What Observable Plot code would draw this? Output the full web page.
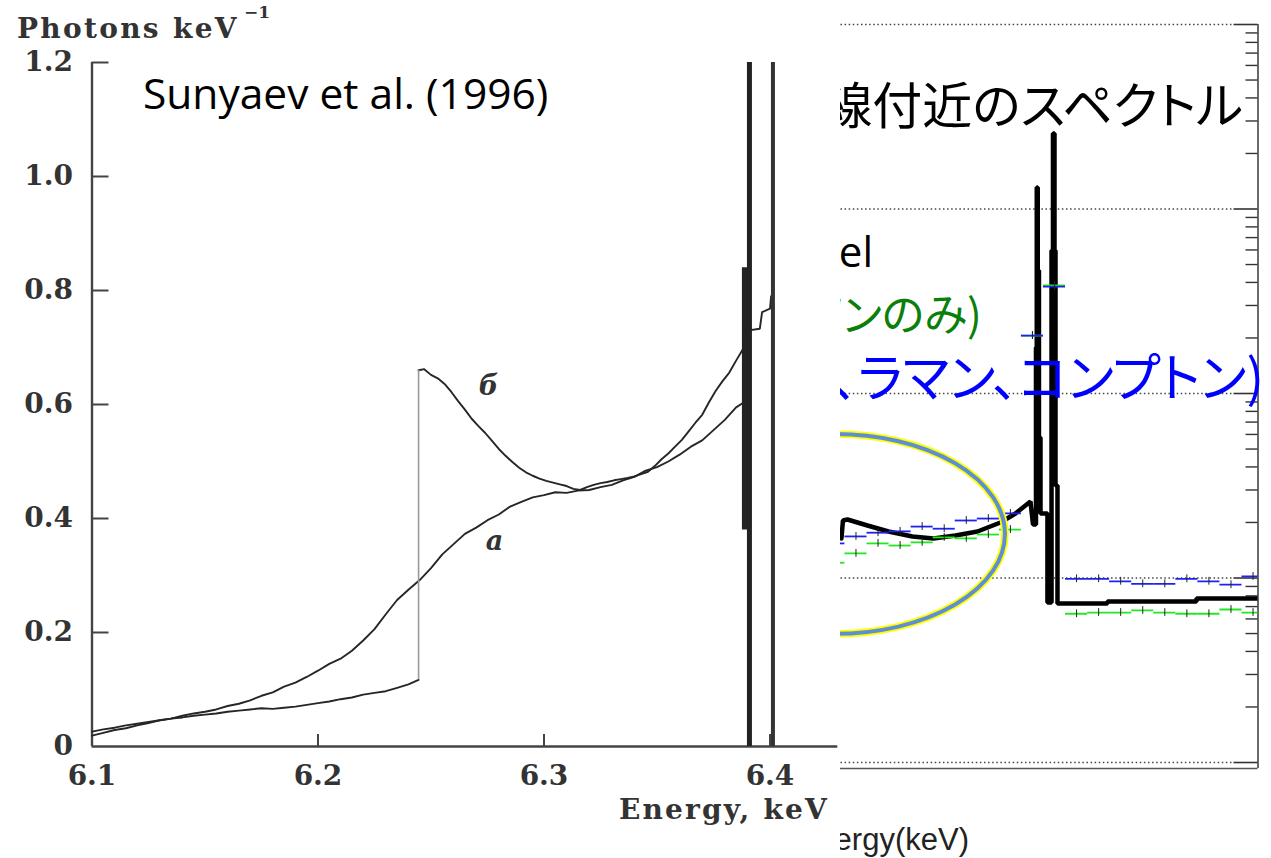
<!DOCTYPE html>
<html><head><meta charset="utf-8">
<script src="https://cdn.jsdelivr.net/npm/d3@7"></script>
<script src="https://cdn.jsdelivr.net/npm/@observablehq/plot@0.6"></script>
<style>
html,body{margin:0;padding:0;background:#fff;}
#page{position:relative;width:1271px;height:858px;overflow:hidden;background:#fff;}
#right{position:absolute;left:600px;top:0;z-index:1;}
#left{position:absolute;left:0;top:0;width:840px;height:858px;background:#fff;z-index:2;overflow:hidden;}
svg{display:block;}
</style></head><body><div id="page"><div id="right"></div><div id="left"></div></div>
<script>
// ===== Left chart: Sunyaev et al. (1996) =====
const leftXTicks = [6.1, 6.2, 6.3, 6.4];
const leftYTicks = [0, 0.2, 0.4, 0.6, 0.8, 1.0, 1.2];

// curve "a"
const aE = [6.100,6.105,6.110,6.115,6.120,6.125,6.130,6.135,6.140,6.145,6.150,6.155,6.160,6.165,6.170,6.175,6.180,6.185,6.190,6.195,
  6.200,6.205,6.210,6.215,6.220,6.225,6.230,6.235,6.240,6.245,6.250,6.255,6.260,6.265,6.270,6.275,6.280,6.285,6.290,6.295,
  6.300,6.305,6.310,6.315,6.320,6.325,6.330,6.335,6.340,6.345,6.350,6.355,6.360,6.365,6.370,6.375,6.380,6.385,6.3885];
const aV = [0.019,0.024,0.029,0.032,0.037,0.041,0.046,0.049,0.054,0.058,0.061,0.065,0.071,0.075,0.081,0.089,0.095,0.105,0.112,0.122,
  0.133,0.145,0.154,0.168,0.186,0.206,0.232,0.257,0.275,0.292,0.313,0.337,0.355,0.373,0.384,0.397,0.407,0.421,0.429,0.437,
  0.441,0.446,0.445,0.449,0.450,0.455,0.459,0.467,0.473,0.484,0.490,0.500,0.512,0.526,0.537,0.555,0.573,0.595,0.604];

// curve "б" below the edge
const bLowE = [6.100,6.105,6.110,6.115,6.120,6.125,6.130,6.135,6.140,6.145,6.150,6.155,6.160,6.165,6.170,6.175,6.180,6.185,6.190,6.195,
  6.200,6.205,6.210,6.215,6.220,6.225,6.230,6.235,6.240,6.2445];
const bLowV = [0.026,0.030,0.033,0.037,0.040,0.043,0.046,0.049,0.051,0.054,0.056,0.058,0.061,0.063,0.065,0.067,0.066,0.068,0.070,0.073,
  0.076,0.079,0.083,0.086,0.091,0.094,0.097,0.103,0.109,0.117];
// curve "б" above the edge
const bHighE = [6.2445,6.247,6.250,6.253,6.256,6.259,6.262,6.265,6.268,6.271,6.274,6.277,6.280,6.283,6.286,6.289,6.292,6.295,6.298,
  6.301,6.304,6.307,6.310,6.313,6.316,6.319,6.322,6.325,6.328,6.331,6.334,6.337,6.340,6.343,6.346,6.349,6.352,6.355,6.358,
  6.361,6.364,6.367,6.370,6.373,6.376,6.379,6.382,6.385,6.388,6.3895,6.3905,6.3955,6.3965,6.4000,6.4005,6.4013];
const bHighV = [0.660,0.662,0.652,0.646,0.636,0.622,0.606,0.591,0.575,0.562,0.550,0.536,0.522,0.510,0.499,0.489,0.481,0.475,0.470,
  0.466,0.463,0.460,0.457,0.452,0.450,0.455,0.459,0.462,0.464,0.467,0.469,0.471,0.474,0.478,0.482,0.492,0.504,0.514,0.526,
  0.538,0.553,0.568,0.582,0.604,0.624,0.641,0.656,0.677,0.697,0.705,0.730,0.733,0.762,0.768,0.790,0.790];

// Fe K alpha lines
const lineE = [6.3909, 6.4013];
const lineTop = [1.2, 1.2];
const lineWidth = [5, 4];
const bandE = [6.3889], bandLo = [0.38], bandHi = [0.84];

const curveLabels = [{e: 6.2754, v: 0.616, t: "б"}, {e: 6.2781, v: 0.344, t: "a"}];

const toRows = (E, V) => E.map((e, i) => ({e, v: V[i]}));
const serif = "DejaVu Serif";
const ink = "#333";

const leftPlot = Plot.plot({
  width: 840, height: 858,
  marginLeft: 91.5, marginRight: 2.7, marginTop: 62, marginBottom: 112,
  x: {domain: [6.1, 6.43], axis: null},
  y: {domain: [0, 1.2], axis: null},
  style: {background: "#fff"},
  marks: [
    Plot.ruleX([6.1], {x: d => d, y1: () => 0, y2: () => 1.2, stroke: "#444", strokeWidth: 2.4}),
    Plot.ruleY([0], {y: d => d, x1: () => 6.1, x2: () => 6.43, stroke: "#444", strokeWidth: 2.4}),
    Plot.ruleY(leftYTicks.slice(1), {y: d => d, x1: () => 6.1, x2: () => 6.1 + 17 / 2260, stroke: "#444", strokeWidth: 2}),
    Plot.ruleX(leftXTicks.slice(1), {x: d => d, y1: () => 0, y2: () => 12 / 570, stroke: "#444", strokeWidth: 2}),
    Plot.text(leftYTicks, {x: () => 6.1, y: d => d, text: d => d === 0 ? "0" : d.toFixed(1), textAnchor: "end", lineAnchor: "middle", dx: -19,
      fontFamily: serif, fontWeight: "bold", fontSize: 28, fill: ink}),
    Plot.text(leftXTicks, {x: d => d, y: () => 0, dy: 38, lineAnchor: "bottom", text: d => d.toFixed(1),
      fontFamily: serif, fontWeight: "bold", fontSize: 28, fill: ink}),
    Plot.line(toRows(aE, aV), {x: "e", y: "v", stroke: "#262626", strokeWidth: 1.9}),
    Plot.line(toRows(bLowE, bLowV), {x: "e", y: "v", stroke: "#262626", strokeWidth: 1.9}),
    Plot.line(toRows(bHighE, bHighV), {x: "e", y: "v", stroke: "#262626", strokeWidth: 1.9}),
    Plot.ruleX([bLowE.length - 1], {x: i => bLowE[i], y1: i => bLowV[i], y2: () => bHighV[0], stroke: "#999", strokeWidth: 1.6}),
    Plot.ruleX(bandE, {x: d => d, y1: (d, i) => bandLo[i], y2: (d, i) => bandHi[i], stroke: "#222", strokeWidth: 6}),
    Plot.ruleX([lineE[0]], {x: d => d, y1: () => 0, y2: () => lineTop[0], stroke: "#222", strokeWidth: lineWidth[0]}),
    Plot.ruleX([lineE[1]], {x: d => d, y1: () => 0, y2: () => lineTop[1], stroke: "#333", strokeWidth: lineWidth[1]}),
    Plot.text(curveLabels, {x: "e", y: "v", text: "t", lineAnchor: "bottom", fontFamily: serif, fontStyle: "italic", fontWeight: "bold", fontSize: 27, fill: ink})
  ]
});
{
  const s = d3.select(leftPlot);
  s.append("text").attr("x", 17).attr("y", 38).attr("text-anchor", "start").attr("font-family", serif).attr("font-weight", "bold")
    .attr("font-size", 28).attr("letter-spacing", 2.3).attr("fill", ink).text("Photons keV");
  s.append("text").attr("x", 244).attr("y", 18).attr("text-anchor", "start").attr("font-family", serif).attr("font-weight", "bold")
    .attr("font-size", 17).attr("fill", ink).text("−1");
  s.append("text").attr("x", 829).attr("y", 819).attr("text-anchor", "end").attr("font-family", serif).attr("font-weight", "bold")
    .attr("font-size", 28).attr("letter-spacing", 2.2).attr("fill", ink).text("Energy, keV");
  s.append("text").attr("x", 143).attr("y", 109).attr("text-anchor", "start").attr("font-family", "Open Sans").attr("font-size", 42.5)
    .attr("fill", "#000").text("Sunyaev et al. (1996)");
}
document.getElementById("left").appendChild(leftPlot);

// ===== Right chart: simulated spectrum (log scale) =====
const binStart = [6.20,6.22,6.24,6.26,6.28,6.30,6.32,6.34,6.36,6.38,6.40,6.42,6.44,6.46,6.48,6.50,6.52,6.54,6.56,6.58];
const binWidth = 0.02;
const blueV = [0.154,0.168,0.176,0.179,0.190,0.185,0.205,0.210,0.224,2.06,3.80,0.099,0.099,0.096,0.093,0.093,0.099,0.096,0.092,0.102];
const greenV = [0.121,0.136,0.154,0.150,0.156,0.166,0.164,0.172,0.183,2.06,3.86,0.064,0.065,0.065,0.0667,0.065,0.064,0.064,0.0675,0.065];
const errFactor = 1.05;

const modelE = [6.2168,6.2182,6.2223,6.2404,6.2595,6.2812,6.3003,6.3202,6.3402,6.3610,6.3746,6.3882,6.3905,6.3932,6.3932,6.3939,6.3939,
  6.3948,6.3948,6.3959,6.3959,6.3973,6.3973,6.4036,6.4036,6.4073,6.4073,6.4086,6.4086,6.4100,6.4100,6.4109,6.4109,6.4127,6.4127,
  6.4580,6.4580,6.5387,6.5387,6.5945];
const modelV = [0.1637,0.2050,0.2075,0.1926,0.1787,0.1679,0.1637,0.1700,0.1787,0.1999,0.2237,0.2598,0.1950,0.1950,1.776,1.776,13.08,
  13.08,4.64,4.64,0.577,0.577,0.2237,0.2237,0.0737,0.0737,5.96,5.96,25.66,25.66,5.96,5.96,0.317,0.317,0.0727,
  0.0727,0.0746,0.0746,0.0774,0.0774];

const rightMajor = [0.01, 0.1, 1, 10, 100];
const rightMinor = [0.01, 0.1, 1, 10].flatMap(d => [2,3,4,5,6,7,8,9].map(k => d * k));
const xLo = 6.09, xHi = 6.5945, yLo = 0.00928, yHi = 100;
const majLen = 24 / 1102.9, minLen = 12 / 1102.9;

const bins = binStart.map((s, i) => ({s, e: s + binWidth, m: s + binWidth / 2, blue: blueV[i], green: greenV[i]}));

const rightPlot = Plot.plot({
  width: 671, height: 858,
  marginLeft: 101.07, marginRight: 13.5, marginTop: 24, marginBottom: 90,
  x: {domain: [xLo, xHi], axis: null},
  y: {type: "log", domain: [yLo, yHi], axis: null},
  marks: [
    Plot.ruleY(rightMajor, {y: d => d, x1: () => xLo, x2: () => xHi - majLen, stroke: "#444", strokeWidth: 1.3, strokeDasharray: "1.5,2.6"}),
    Plot.ruleY([yLo], {y: d => d, x1: () => xLo, x2: () => xHi, stroke: "#555", strokeWidth: 1.6}),
    Plot.ruleX([xHi], {x: d => d, y1: () => yLo, y2: () => yHi, stroke: "#444", strokeWidth: 1.6}),
    Plot.ruleY(rightMajor, {y: d => d, x1: () => xHi - majLen, x2: () => xHi, stroke: "#333", strokeWidth: 1.6}),
    Plot.ruleY(rightMinor, {y: d => d, x1: () => xHi - minLen, x2: () => xHi, stroke: "#333", strokeWidth: 1.4}),
    Plot.line(toRows(modelE, modelV), {x: "e", y: "v", stroke: "#000", strokeWidth: 4.5, strokeLinejoin: "miter", clip: true}),
    Plot.ruleY(bins, {y: "green", x1: "s", x2: "e", stroke: "#22e822", strokeWidth: 1.8, clip: true}),
    Plot.ruleX(bins, {x: "m", y1: d => d.green / errFactor, y2: d => d.green * errFactor, stroke: "#222", strokeWidth: 1, clip: true}),
    Plot.ruleY(bins, {y: "blue", x1: "s", x2: "e", stroke: "#2020f0", strokeWidth: 1.8, clip: true}),
    Plot.ruleX(bins, {x: "m", y1: d => d.blue / errFactor, y2: d => d.blue * errFactor, stroke: "#222", strokeWidth: 1, clip: true})
  ]
});
{
  const s = d3.select(rightPlot);
  const sx = rightPlot.scale("x"), sy = rightPlot.scale("y");
  // highlight ellipse (annotation), defined in data units
  const ellE = 6.2114, ellHalfW = 0.1541, ellTopV = 0.60, ellBotV = 0.0495;
  const cx = sx.apply(ellE), rx = sx.apply(ellE + ellHalfW) - cx;
  const yt = sy.apply(ellTopV), yb = sy.apply(ellBotV);
  const cy = (yt + yb) / 2, ry = (yb - yt) / 2;
  s.append("ellipse").attr("cx", cx).attr("cy", cy).attr("rx", rx).attr("ry", ry)
    .attr("fill", "none").attr("stroke", "#ffff00").attr("stroke-width", 7.5);
  s.append("ellipse").attr("cx", cx).attr("cy", cy).attr("rx", rx).attr("ry", ry)
    .attr("fill", "none").attr("stroke", "#5e8fd4").attr("stroke-width", 4);
  // the part left of x = 840 (page) is covered by the left figure
  s.append("defs").append("clipPath").attr("id", "visibleRight")
    .append("rect").attr("x", 240).attr("y", 0).attr("width", 431).attr("height", 858);
  const g = s.append("g").attr("clip-path", "url(#visibleRight)");
  const jp = "'Noto Sans CJK JP', sans-serif";
  g.append("text").attr("x", 643).attr("y", 124).attr("text-anchor", "end").attr("font-family", jp)
    .attr("font-size", 50).style("font-feature-settings", "'palt'").attr("fill", "#000").text("輝線付近のスペクトル");
  g.append("text").attr("x", 273).attr("y", 267).attr("text-anchor", "end").attr("font-family", "'Open Sans', 'Noto Sans CJK JP'")
    .attr("font-size", 42).attr("fill", "#000").text("model");
  g.append("text").attr("x", 382).attr("y", 331).attr("text-anchor", "end").attr("font-family", jp)
    .attr("font-size", 44).style("font-feature-settings", "'palt'").attr("fill", "#0a800a").text("(トムソンのみ)");
  g.append("text").attr("x", 664).attr("y", 397).attr("text-anchor", "end").attr("font-family", jp)
    .attr("font-size", 52).style("font-feature-settings", "'palt'").attr("fill", "#0000ff").text("(光電吸収、ラマン、コンプトン)");
  g.append("text").attr("x", 369).attr("y", 850).attr("text-anchor", "end").attr("font-family", "'Liberation Sans', Arial, sans-serif")
    .attr("font-size", 31).attr("fill", "#222").text("Energy(keV)");
}
document.getElementById("right").appendChild(rightPlot);
</script></body></html>
